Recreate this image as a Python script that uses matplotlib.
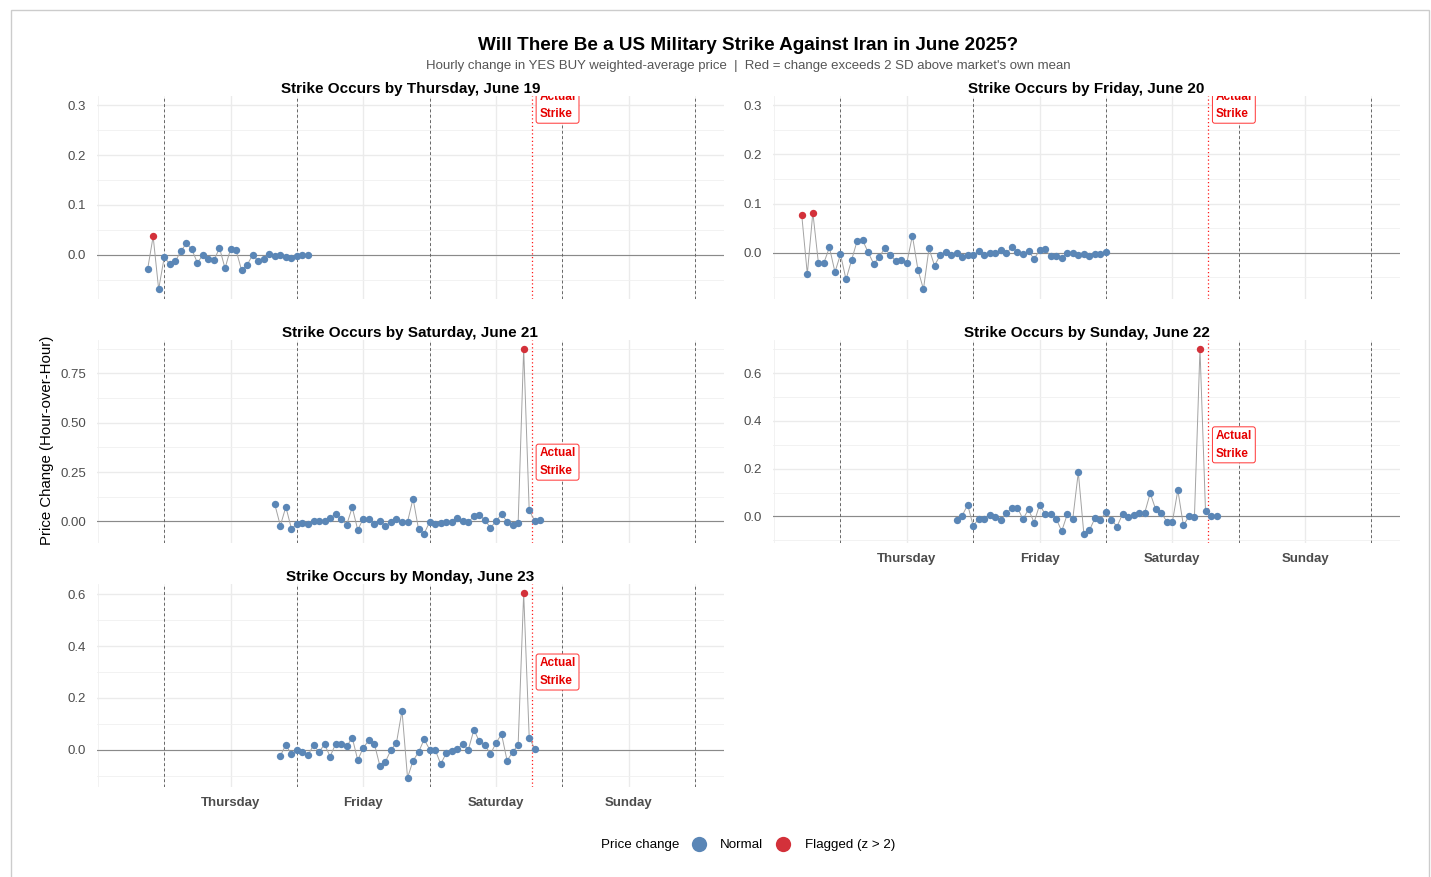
import matplotlib
matplotlib.use("Agg")
import matplotlib.pyplot as plt
from matplotlib.lines import Line2D
from matplotlib.patches import Rectangle
from matplotlib.ticker import MultipleLocator, FormatStrFormatter, FixedLocator
import numpy as np

plt.rcParams['font.family'] = ['Liberation Sans', 'DejaVu Sans']

# ---------------- data ----------------
TITLE = "Will There Be a US Military Strike Against Iran in June 2025?"
SUBTITLE = ("Hourly change in YES BUY weighted-average price  |  "
            "Red = change exceeds 2 SD above market's own mean")

# hours measured from Thursday 00:00
DAY_TICK_HOURS = [12, 36, 60, 84]
DAY_TICK_LABELS = ["Thursday", "Friday", "Saturday", "Sunday"]
DAY_LINES = [0, 24, 48, 72, 96]
X_RANGE = (-7, 96)
STRIKE_HOUR = 66.5
LABEL_Y = 0.3

panel_titles = [
    "Strike Occurs by Thursday, June 19",
    "Strike Occurs by Friday, June 20",
    "Strike Occurs by Saturday, June 21",
    "Strike Occurs by Sunday, June 22",
    "Strike Occurs by Monday, June 23",
]
panel_start_hours = [-3, -7, 20, 21, 21]

thu_values = [-0.029, 0.037, -0.069, -0.005, -0.018, -0.013, 0.007, 0.023, 0.011, -0.016,
              0.000, -0.008, -0.011, 0.014, -0.027, 0.012, 0.009, -0.031, -0.020, 0.000,
              -0.012, -0.008, 0.001, -0.002, -0.001, -0.004, -0.006, -0.003, 0.000, 0.000]

fri_values = [0.076, -0.043, 0.082, -0.020, -0.020, 0.011, -0.039, -0.003, -0.054, -0.015,
              0.024, 0.026, 0.001, -0.022, -0.009, 0.010, -0.005, -0.016, -0.015, -0.020,
              0.035, -0.034, -0.074, 0.009, -0.026, -0.005, 0.001, -0.005, -0.001,
              -0.008, -0.005, -0.005, 0.004, -0.005, -0.001, -0.001, 0.006, -0.001, 0.012,
              0.002, -0.002, 0.003, -0.012, 0.005, 0.007, -0.007, -0.007, -0.011, -0.001,
              -0.001, -0.004, -0.003, -0.007, -0.003, -0.003, 0.002]

sat_values = [0.086, -0.022, 0.073, -0.037, -0.014, -0.010, -0.012, 0.003, 0.002, 0.003,
              0.017, 0.037, 0.012, -0.017, 0.071, -0.044, 0.014, 0.014, -0.012, 0.002,
              -0.024, -0.002, 0.012, -0.003, -0.002,
              0.115, -0.041, -0.063, -0.002, -0.012, -0.007, -0.002, -0.002, 0.019, 0.002,
              -0.003, 0.025, 0.034, 0.005, -0.032, 0.000, 0.037, -0.002, -0.020, -0.008,
              0.875, 0.056, 0.002, 0.005]

sun_values = [-0.014, 0.003, 0.048, -0.040, -0.010, -0.011, 0.006, -0.001, -0.017, 0.015,
              0.034, 0.036, -0.012, 0.030, -0.026, 0.048, 0.010, 0.010, -0.010, -0.062,
              0.008, -0.011, 0.185, -0.073, -0.059,
              -0.008, -0.015, 0.018, -0.015, -0.043, 0.010, -0.004, 0.004, 0.015, 0.014,
              0.097, 0.029, 0.015, -0.022, -0.025, 0.110, -0.038, 0.000, -0.001, 0.703,
              0.021, 0.000, 0.001]

mon_values = [-0.023, 0.019, -0.018, -0.001, -0.010, -0.021, 0.018, -0.008, 0.021, -0.026,
              0.023, 0.021, 0.013, 0.047, -0.040, 0.008, 0.036, 0.023, -0.062, -0.046,
              -0.001, 0.027, 0.151,
              -0.108, -0.042, -0.009, 0.040, 0.001, 0.000, -0.055, -0.013, -0.006, 0.004,
              0.022, 0.001, 0.077, 0.032, 0.017, -0.017, 0.027, 0.060, -0.042, -0.009,
              0.019, 0.604, 0.047, 0.004]

panel_values = [thu_values, fri_values, sat_values, sun_values, mon_values]
panel_y_steps = [0.1, 0.1, 0.25, 0.2, 0.2]
panel_y_formats = ["%.1f", "%.1f", "%.2f", "%.1f", "%.1f"]

# ---------------- style / layout ----------------
W, H, DPI = 1431, 877, 100
BLUE = "#5A86B6"
RED = "#D3313A"
COLS = [(97.0, 723.6), (773.3, 1399.9)]
ROWS = [(96.0, 298.5), (339.5, 543.0), (584.0, 787.0)]
panel_pos = [(0, 0), (1, 0), (0, 1), (1, 1), (0, 2)]
bottom_panels = {3, 4}

fig = plt.figure(figsize=(W / DPI, H / DPI), dpi=DPI)
fig.patch.set_facecolor("white")


def add_px_axes(x0, y0, x1, y1):
    return fig.add_axes([x0 / W, 1 - y1 / H, (x1 - x0) / W, (y1 - y0) / H])


xspan = X_RANGE[1] - X_RANGE[0]
XLIM = (X_RANGE[0] - 0.05 * xspan, X_RANGE[1] + 0.05 * xspan)
minor_x = [DAY_TICK_HOURS[0] - 24] + DAY_LINES + [DAY_TICK_HOURS[-1] + 24]

for i, (title, start, vals) in enumerate(zip(panel_titles, panel_start_hours, panel_values)):
    c, r = panel_pos[i]
    x0, x1 = COLS[c]
    y0, y1 = ROWS[r]
    ax = add_px_axes(x0, y0, x1, y1)
    vals = np.asarray(vals, dtype=float)
    hours = start + np.arange(len(vals))
    z = (vals - vals.mean()) / vals.std(ddof=1)
    flag = z > 2

    ax.plot(hours, vals, color="#A3A3A3", lw=0.7, zorder=3)
    ax.plot(hours[~flag], vals[~flag], ls="none", marker="o", ms=5.3,
            mfc=BLUE, mec=BLUE, mew=0, zorder=4)
    ax.plot(hours[flag], vals[flag], ls="none", marker="o", ms=5.3,
            mfc=RED, mec=RED, mew=0, zorder=5)

    ax.axhline(0, color="#8A8A8A", lw=0.8, zorder=2)
    for d in DAY_LINES:
        ax.axvline(d, color="#666666", lw=0.7, ls=(0, (3, 2.5)), zorder=2)
    ax.axvline(STRIKE_HOUR, color="#FF1A1A", lw=0.9, ls=(0, (1, 2)), zorder=2)

    lo = min(vals.min(), LABEL_Y)
    hi = max(vals.max(), LABEL_Y)
    span = hi - lo
    ax.set_ylim(lo - 0.05 * span, hi + 0.05 * span)
    ax.set_xlim(*XLIM)

    step = panel_y_steps[i]
    ax.yaxis.set_major_locator(MultipleLocator(step))
    ax.yaxis.set_minor_locator(MultipleLocator(step / 2))
    ax.yaxis.set_major_formatter(FormatStrFormatter(panel_y_formats[i]))
    ax.xaxis.set_major_locator(FixedLocator(DAY_TICK_HOURS))
    ax.xaxis.set_minor_locator(FixedLocator(minor_x))
    ax.set_xticklabels(DAY_TICK_LABELS)

    ax.grid(which="major", color="#EBEBEB", lw=1.0, zorder=0)
    ax.grid(which="minor", color="#F0F0F0", lw=0.6, zorder=0)
    ax.set_axisbelow(True)
    for s in ax.spines.values():
        s.set_visible(False)
    ax.tick_params(which="both", length=0)
    ax.tick_params(axis="y", labelsize=9.5, labelcolor="#4D4D4D", pad=8)
    ax.tick_params(axis="x", labelsize=9.5, labelcolor="#4D4D4D", pad=7.5,
                   labelbottom=(i in bottom_panels))
    for lab in ax.get_xticklabels():
        lab.set_fontweight("bold")

    ax.text(0.5, 1 + 6.5 / (y1 - y0), title, transform=ax.transAxes,
            ha="center", va="center", fontsize=11, fontweight="bold", color="black")

    t = ax.text(STRIKE_HOUR + 1.35, LABEL_Y, "Actual\nStrike", color="#E60000",
                fontsize=8.5, fontweight="bold", ha="left", va="center",
                linespacing=1.6, zorder=6,
                bbox=dict(boxstyle="round,pad=0.28,rounding_size=0.2", fc="white",
                          ec="#FF3333", lw=0.7))
    t.set_clip_on(True)
    t.set_clip_path(ax.patch)

fig.text(748 / W, 1 - 46 / H, TITLE, ha="center", va="center",
         fontsize=13.6, fontweight="bold", color="black")
fig.text(748 / W, 1 - 66.5 / H, SUBTITLE, ha="center", va="center",
         fontsize=9.5, color="#555555")
fig.text(47 / W, 1 - 440.5 / H, "Price Change (Hour-over-Hour)", rotation=90,
         ha="center", va="center", fontsize=10.8, color="black")

fig.text(601 / W, 1 - 845 / H, "Price change", ha="left", va="center",
         fontsize=9.6, color="black")
handles = [Line2D([], [], ls="none", marker="o", ms=11, mfc=BLUE, mec=BLUE, mew=0),
           Line2D([], [], ls="none", marker="o", ms=11, mfc=RED, mec=RED, mew=0)]
fig.legend(handles, ["Normal", "Flagged (z > 2)"], ncol=2, loc="center left",
           bbox_to_anchor=(691 / W, 1 - 845 / H), frameon=False, fontsize=9.6,
           handlelength=1.2, handletextpad=1.0, columnspacing=0.9,
           borderaxespad=0, borderpad=0)

fig.patches.append(Rectangle((10.5 / W, -0.1), 1418 / W, 1 - 10.5 / H + 0.1,
                             transform=fig.transFigure, fill=False,
                             ec="#CCCCCC", lw=1.0))

fig.savefig("out.png", dpi=DPI, facecolor="white")
